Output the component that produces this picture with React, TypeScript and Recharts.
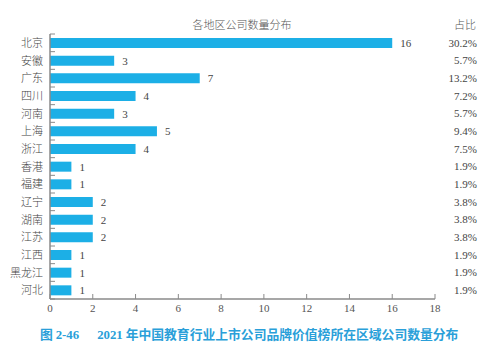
import React from 'react';
import { BarChart, Bar, XAxis, YAxis, LabelList } from 'recharts';

const regions = ['北京', '安徽', '广东', '四川', '河南', '上海', '浙江', '香港', '福建', '辽宁', '湖南', '江苏', '江西', '黑龙江', '河北'];
const counts = [16, 3, 7, 4, 3, 5, 4, 1, 1, 2, 2, 2, 1, 1, 1];
const shares = ['30.2%', '5.7%', '13.2%', '7.2%', '5.7%', '9.4%', '7.5%', '1.9%', '1.9%', '3.8%', '3.8%', '3.8%', '1.9%', '1.9%', '1.9%'];
const xTicks = [0, 2, 4, 6, 8, 10, 12, 14, 16, 18];

const chartTitle = '各地区公司数量分布';
const shareHeader = '占比';
const figNumber = '2-46';
const figYear = '2021';
const figText = ' 年中国教育行业上市公司品牌价值榜所在区域公司数量分布';

const data = regions.map((r, i) => ({ region: r, count: counts[i], share: shares[i] }));

const BAR = '#1cafe6';
const AXIS = '#8a8a8a';
const TEXT = '#444';
const SERIF = '"Liberation Serif", "Noto Sans CJK SC", serif';
const CJK = '"Noto Sans CJK SC", sans-serif';
const TICK_MARGIN = 7;

const LeftTick = (props: any) => {
  const { x, y, payload, index } = props;
  const off = payload && typeof payload.offset === 'number' ? payload.offset : 8.8;
  const ax = x + TICK_MARGIN;
  const last = index === regions.length - 1;
  return (
    <g>
      <text x={x} y={y} dy={4} textAnchor="end" fill={TEXT} fontSize={11} fontFamily={CJK} fontWeight={300}>
        {payload.value}
      </text>
      <line x1={ax} x2={ax + 5} y1={y - off} y2={y - off} stroke={AXIS} strokeWidth={1} />
      {last && <line x1={ax} x2={ax + 5} y1={y + off} y2={y + off} stroke={AXIS} strokeWidth={1} />}
    </g>
  );
};

export default function App() {
  return (
    <div style={{ position: 'absolute', left: 0, top: 0, width: 500, height: 351, background: '#fff' }}>
      <div style={{ position: 'absolute', left: 0, width: 484, top: 16, textAlign: 'center', fontFamily: CJK, fontSize: 11, color: '#555', fontWeight: 300 }}>
        {chartTitle}
      </div>
      <div style={{ position: 'absolute', left: 450, width: 30, top: 16, textAlign: 'center', fontFamily: CJK, fontSize: 11, color: '#555', fontWeight: 300 }}>
        {shareHeader}
      </div>
      <BarChart
        width={500}
        height={351}
        data={data}
        layout="vertical"
        margin={{ top: 34, right: 0, bottom: 30, left: 0 }}
        barCategoryGap={0}
      >
        <XAxis
          type="number"
          domain={[0, 18]}
          ticks={xTicks}
          interval={0}
          tickSize={-5}
          tickMargin={10}
          height={22}
          stroke={AXIS}
          tick={{ fill: '#555', fontSize: 11, fontFamily: SERIF }}
          axisLine={{ stroke: AXIS, strokeWidth: 1.5 }}
          tickLine={{ stroke: AXIS }}
        />
        <YAxis
          yAxisId="left"
          type="category"
          dataKey="region"
          width={50}
          interval={0}
          tickSize={0}
          tickMargin={TICK_MARGIN}
          tickLine={false}
          axisLine={{ stroke: AXIS, strokeWidth: 1.5 }}
          tick={<LeftTick />}
        />
        <YAxis
          yAxisId="right"
          orientation="right"
          type="category"
          dataKey="share"
          width={65}
          interval={0}
          tickSize={0}
          tickMargin={42}
          tickLine={false}
          axisLine={false}
          tick={{ fill: TEXT, fontSize: 11, fontFamily: SERIF, textAnchor: 'end' }}
        />
        <Bar dataKey="count" yAxisId="left" fill={BAR} barSize={10} isAnimationActive={false}>
          <LabelList dataKey="count" position="right" offset={8} fill={TEXT} fontSize={11} fontFamily={SERIF} />
        </Bar>
      </BarChart>
      <div style={{ position: 'absolute', left: 40, top: 324, whiteSpace: 'nowrap', color: '#2a9fd9', fontWeight: 700, fontSize: 12.8, fontFamily: CJK }}>
        <span>图 </span>
        <span style={{ fontFamily: SERIF }}>{figNumber}</span>
        <span style={{ display: 'inline-block', width: 18 }} />
        <span style={{ fontFamily: SERIF }}>{figYear}</span>
        <span>{figText}</span>
      </div>
    </div>
  );
}
